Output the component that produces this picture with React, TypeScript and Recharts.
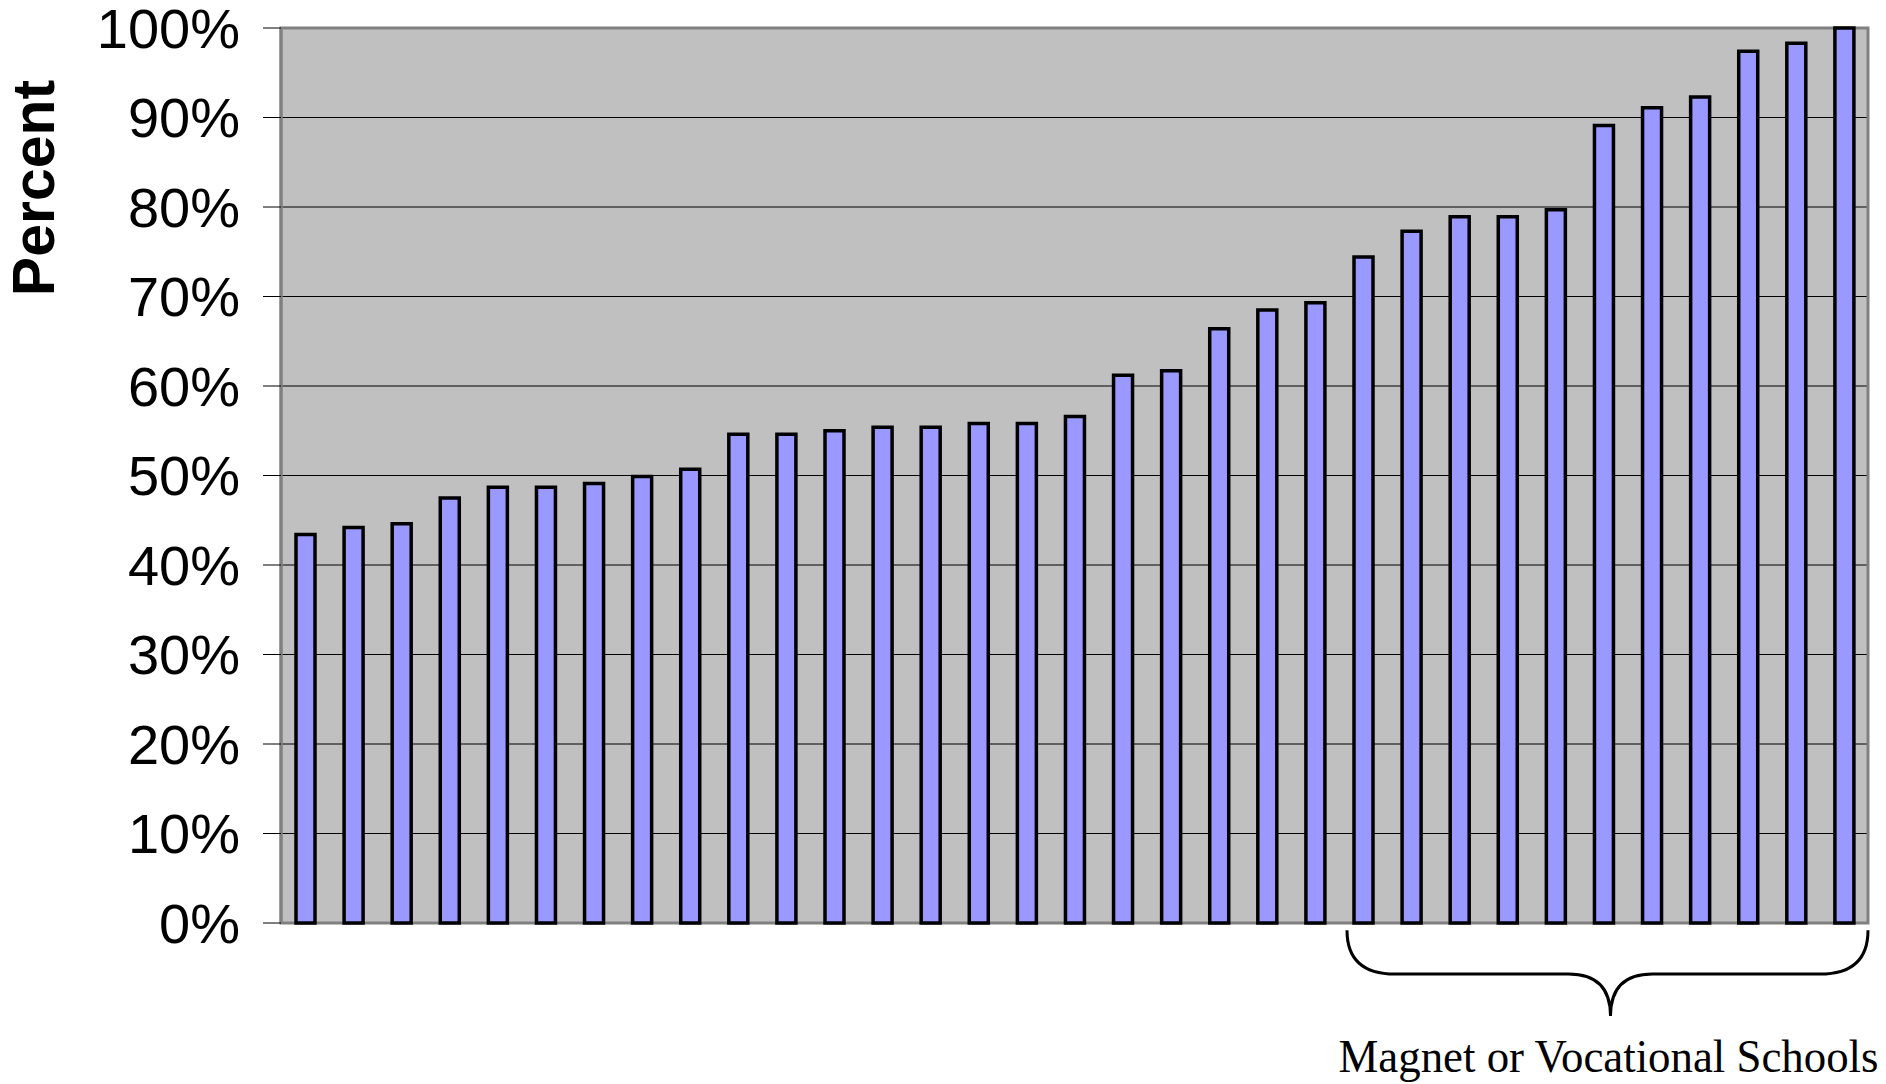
import { BarChart, Bar, XAxis, YAxis, CartesianGrid, ReferenceArea } from 'recharts';

// one bar per school, sorted ascending
const schools = [
  '1', '2', '3', '4', '5', '6', '7', '8', '9', '10', '11',
  '12', '13', '14', '15', '16', '17', '18', '19', '20', '21', '22',
  '23', '24', '25', '26', '27', '28', '29', '30', '31', '32', '33',
];
const percents = [
  43.4, 44.2, 44.6, 47.5, 48.7, 48.7, 49.1, 49.9, 50.7, 54.6, 54.6,
  55.0, 55.4, 55.4, 55.8, 55.8, 56.6, 61.2, 61.7, 66.4, 68.5, 69.3,
  74.4, 77.3, 78.9, 78.9, 79.7, 89.1, 91.1, 92.3, 97.4, 98.3, 100,
];
const yTicks = [0, 10, 20, 30, 40, 50, 60, 70, 80, 90, 100];

const groupStart = '23';
const groupEnd = '33';
const groupLabel = 'Magnet or Vocational Schools';
const braceTop = -0.8;
const braceTip = -10.4;

const data = schools.map((s, i) => ({ school: s, pct: percents[i] }));

function Brace(props: any) {
  const { x, y, width, height } = props;
  const x0 = x + 8;
  const x1 = x + width;
  const cx = (x0 + x1) / 2 + 3;
  const hy = y + height * 0.51;
  const tip = y + height;
  const d = [
    `M ${x0} ${y}`,
    `Q ${x0} ${hy} ${x0 + 48} ${hy}`,
    `L ${cx - 42} ${hy}`,
    `Q ${cx} ${hy} ${cx} ${tip}`,
    `Q ${cx} ${hy} ${cx + 42} ${hy}`,
    `L ${x1 - 48} ${hy}`,
    `Q ${x1} ${hy} ${x1} ${y}`,
  ].join(' ');
  return (
    <g>
      <path d={d} fill="none" stroke="#000" strokeWidth={3} />
      <text
        x={cx - 2}
        y={tip + 56}
        textAnchor="middle"
        fontFamily="'Liberation Serif', 'Times New Roman', serif"
        fontSize={47}
        textLength={540}
        lengthAdjust="spacingAndGlyphs"
        fill="#000"
      >
        {groupLabel}
      </text>
    </g>
  );
}

function PercentLabel(props: any) {
  const { viewBox } = props;
  const cx = viewBox.x + 34;
  const cy = viewBox.y + 160;
  return (
    <text
      x={cx}
      y={cy}
      transform={`rotate(-90 ${cx} ${cy})`}
      textAnchor="middle"
      dominantBaseline="central"
      fontFamily="'Liberation Sans', Arial, sans-serif"
      fontWeight="bold"
      fontSize={59}
      fill="#000"
    >
      Percent
    </text>
  );
}

export default function App() {
  return (
    <div style={{ position: 'absolute', left: 0, top: 0, background: '#fff' }}>
      <BarChart
        width={1886}
        height={1084}
        data={data}
        margin={{ top: 28, right: 18, left: 0, bottom: 161 }}
        barCategoryGap={0}
      >
        <CartesianGrid
          vertical={false}
          horizontal
          stroke="#000"
          strokeWidth={1}
          fill="#C0C0C0"
          fillOpacity={1}
        />
        <XAxis dataKey="school" hide />
        <YAxis
          width={281}
          domain={[0, 100]}
          ticks={yTicks}
          interval={0}
          tickFormatter={(v: number) => `${v}%`}
          tickSize={18}
          tickMargin={23}
          tickLine={{ stroke: '#000', strokeWidth: 1 }}
          axisLine={{ stroke: '#808080', strokeWidth: 3 }}
          tick={{ fill: '#000', fontSize: 56, fontFamily: "'Liberation Sans', Arial, sans-serif" }}
          label={{ content: PercentLabel }}
        />
        <ReferenceArea
          x1={schools[0]}
          x2={schools[schools.length - 1]}
          y1={0}
          y2={100}
          fill="none"
          stroke="#808080"
          strokeWidth={3}
          ifOverflow="visible"
        />
        <Bar
          dataKey="pct"
          fill="#9999FF"
          stroke="#000"
          strokeWidth={3.5}
          barSize={19}
          isAnimationActive={false}
        />
        <ReferenceArea
          x1={groupStart}
          x2={groupEnd}
          y1={braceTop}
          y2={braceTip}
          ifOverflow="visible"
          shape={Brace}
        />
      </BarChart>
    </div>
  );
}
